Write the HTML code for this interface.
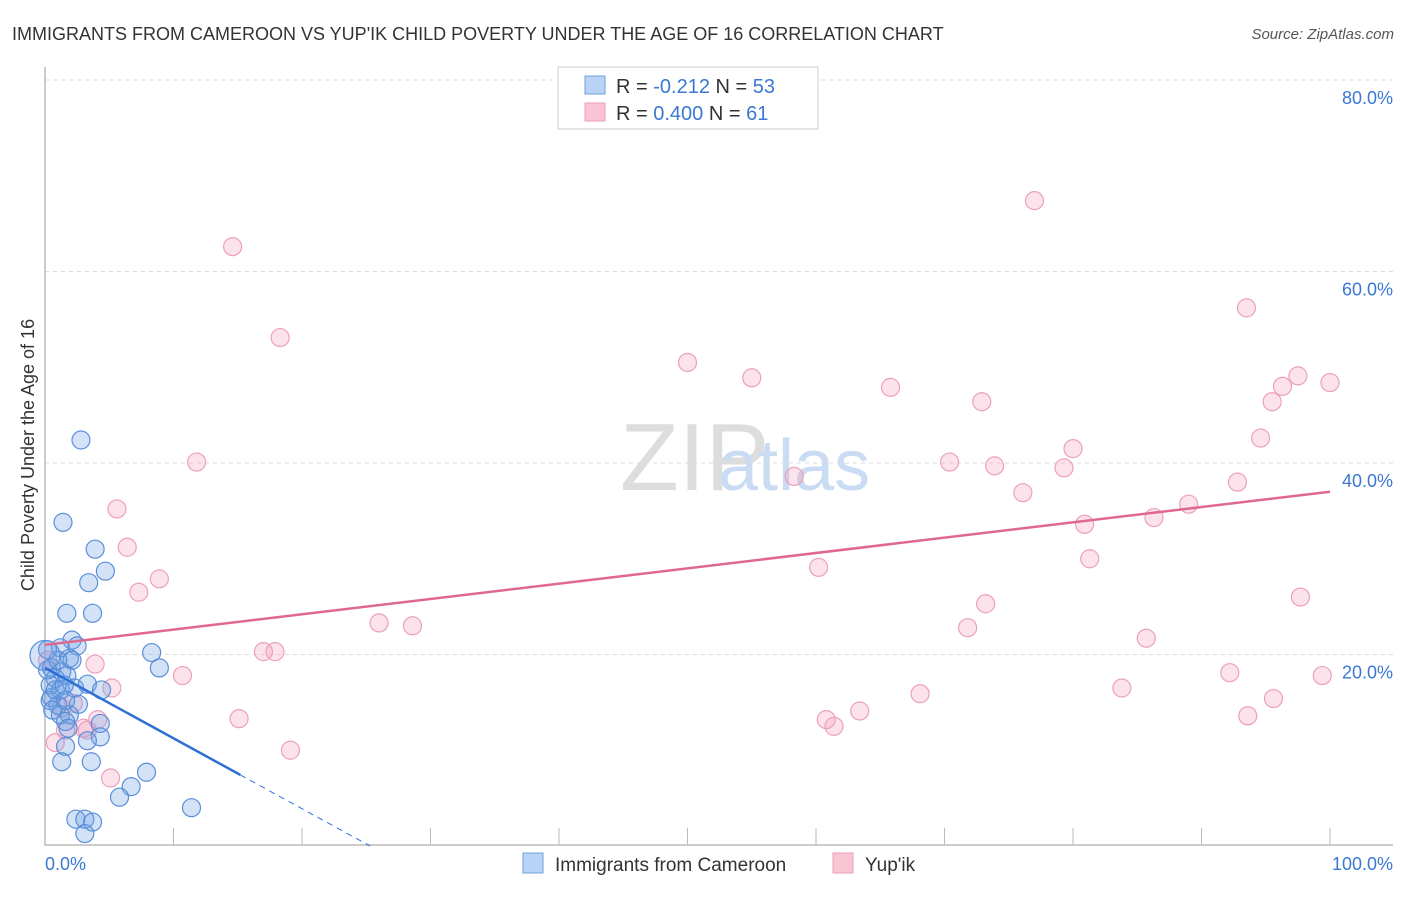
<!DOCTYPE html>
<html><head><meta charset="utf-8"><style>
body{margin:0;background:#fff;font-family:"Liberation Sans",sans-serif}
svg text{font-family:"Liberation Sans",sans-serif}
</style></head><body>
<svg id="c" width="1406" height="892" xmlns="http://www.w3.org/2000/svg">
<text x="12" y="40" font-size="18" fill="#333">IMMIGRANTS FROM CAMEROON VS YUP'IK CHILD POVERTY UNDER THE AGE OF 16 CORRELATION CHART</text>
<text x="1394" y="39" font-size="15" fill="#555" font-style="italic" text-anchor="end">Source: ZipAtlas.com</text>
<text x="620" y="490" font-size="96" fill="#ddd" font-family="Liberation Serif">ZIP</text>
<text x="718" y="490" font-size="72" fill="#c9dcf3">atlas</text>
<text transform="translate(34,455) rotate(-90)" font-size="18" fill="#333" text-anchor="middle">Child Poverty Under the Age of 16</text>
<g id="grid"></g><g id="pts"></g><g id="trend"></g>
<g>
<rect x="558" y="67" width="260" height="62" fill="#fff" stroke="#ccc"/>
<rect x="585" y="76" width="20" height="18" fill="#b8d3f5" stroke="#6fa0e0"/>
<rect x="585" y="103" width="20" height="18" fill="#f9c5d5" stroke="#ec9fb8"/>
<text x="616" y="93" font-size="20" fill="#333">R = <tspan fill="#3a78d4">-0.212</tspan>   N = <tspan fill="#3a78d4">53</tspan></text>
<text x="616" y="120" font-size="20" fill="#333">R = <tspan fill="#3a78d4">0.400</tspan>   N =  <tspan fill="#3a78d4">61</tspan></text>
</g>
<g>
<rect x="523" y="853" width="20" height="20" fill="#b8d3f5" stroke="#6fa0e0"/>
<text x="555" y="871" font-size="19" fill="#333">Immigrants from Cameroon</text>
<rect x="833" y="853" width="20" height="20" fill="#f9c5d5" stroke="#ec9fb8"/>
<text x="865" y="871" font-size="19" fill="#333">Yup'ik</text>
</g>
</svg>
<script>
const yTicks=[20,40,60,80];
const yTickLabels=["20.0%","40.0%","60.0%","80.0%"];
const xTickLabels=["0.0%","100.0%"];
const blueX=[2.8,1.4,3.9,4.7,3.4,1.7,3.7,2.1,1.2,2.5,1.9,2.1,0.2,0.5,1.3,0.8,1.7,0.4,1.2,2.3,3.3,4.4,0.5,1.0,2.6,1.2,1.9,1.6,1.8,4.3,4.3,3.3,1.6,1.3,3.6,7.9,6.7,5.8,11.4,2.4,3.1,3.7,3.1,8.3,8.9,0.4,0.8,0.2,1.5,1.0,0,0.6,1.6];
const blueY=[42.4,33.8,31.0,28.7,27.5,24.3,24.3,21.5,20.7,20.9,19.6,19.4,20.5,18.6,18.2,17.5,17.8,16.8,16.3,16.5,16.9,16.3,15.5,14.7,14.8,13.7,13.7,13.0,12.3,12.8,11.4,11.0,10.4,8.8,8.8,7.7,6.2,5.1,4.0,2.8,2.8,2.5,1.3,20.2,18.6,15.2,16.3,18.4,16.8,19.4,19.9,14.2,15.2];
const pinkX=[14.6,18.3,11.8,5.6,6.4,8.9,7.3,26.0,28.6,17.0,17.9,3.9,10.7,5.2,2.2,4.1,15.1,3.3,1.6,0.8,3.0,5.1,19.1,77.0,93.5,50.0,55.0,65.8,72.9,97.5,96.3,95.5,100,94.6,70.4,73.9,80.0,79.3,76.1,92.8,89.0,86.3,80.9,81.3,58.3,60.2,73.2,71.8,85.7,97.7,92.2,99.4,83.8,68.1,63.4,60.8,61.4,93.6,95.6,1.3,0.2];
const pinkY=[62.6,53.1,40.1,35.2,31.2,27.9,26.5,23.3,23.0,20.3,20.3,19.0,17.8,16.5,14.9,13.2,13.3,12.1,12.1,10.8,12.3,7.1,10.0,67.4,56.2,50.5,48.9,47.9,46.4,49.1,48.0,46.4,48.4,42.6,40.1,39.7,41.5,39.5,36.9,38.0,35.7,34.3,33.6,30.0,38.6,29.1,25.3,22.8,21.7,26.0,18.1,17.8,16.5,15.9,14.1,13.2,12.5,13.6,15.4,14.4,19.4];
const pinkTrend=[21.0,37.0];
const blueTrend=[18.6,0];
const blueSolidEnd=15.2, blueZero=25.3;
const X=v=>45+v*12.85, Y=v=>846-v*9.575;
const NS="http://www.w3.org/2000/svg";
function mk(p,t,a){const e=document.createElementNS(NS,t);for(const k in a)e.setAttribute(k,a[k]);p.appendChild(e);return e;}
const g=document.getElementById('grid');
yTicks.forEach((t,i)=>{
 const l=mk(g,'line',{x1:45,x2:1393,y1:Y(t),y2:Y(t),stroke:'#ddd','stroke-dasharray':'4,4'});
 
 
 const tx=mk(g,'text',{x:1393,y:Y(t)+24,'font-size':18,fill:'#3a78d4','text-anchor':'end'});tx.textContent=yTickLabels[i];
 
 
});
mk(g,'line',{x1:Y(80)-35,x2:1393,y1:Y(80),y2:Y(80),stroke:'#ddd','stroke-dasharray':'4,4'});
const ax=mk(g,'path',{d:'M45,67V845H1393',fill:'none',stroke:'#bbb','stroke-width':1.5});


for(let i=0;i<=10;i++){const t=mk(g,'line',{x1:X(i*10),x2:X(i*10),y1:828,y2:845,stroke:'#bbb'});
 
 }
const x0=mk(g,'text',{x:45,y:870,'font-size':18,fill:'#3a78d4'});x0.textContent=xTickLabels[0];


const x1=mk(g,'text',{x:1393,y:870,'font-size':18,fill:'#3a78d4','text-anchor':'end'});x1.textContent=xTickLabels[1];


const pg=document.getElementById('pts');
function pt(x,y,f,s,r,n){const c=mk(pg,'circle',{cx:X(x),cy:Y(y),r:r,fill:f,stroke:s,'stroke-width':1.2});
 
 }
pinkX.forEach((x,i)=>pt(x,pinkY[i],'rgba(244,160,188,0.3)','#eca0ba',9,'yupik-point'));
blueX.forEach((x,i)=>pt(x,blueY[i],'rgba(110,160,228,0.3)','#5a8fd8',(x===0?15:9),'cameroon-point'));
const tg=document.getElementById('trend');
const pl=mk(tg,'line',{x1:X(0),y1:Y(pinkTrend[0]),x2:X(100),y2:Y(pinkTrend[1]),stroke:'#e06890','stroke-width':2.5});


const bs=(blueTrend[1]-blueTrend[0])/blueZero;
const bl=mk(tg,'line',{x1:X(0),y1:Y(blueTrend[0]),x2:X(blueSolidEnd),y2:Y(blueTrend[0]+bs*blueSolidEnd),stroke:'#2e6fd6','stroke-width':2.5});


const bd=mk(tg,'line',{x1:X(blueSolidEnd),y1:Y(blueTrend[0]+bs*blueSolidEnd),x2:X(blueZero),y2:Y(0),stroke:'#2e6fd6','stroke-width':1,'stroke-dasharray':'6,5'});


</script>
</body></html>
